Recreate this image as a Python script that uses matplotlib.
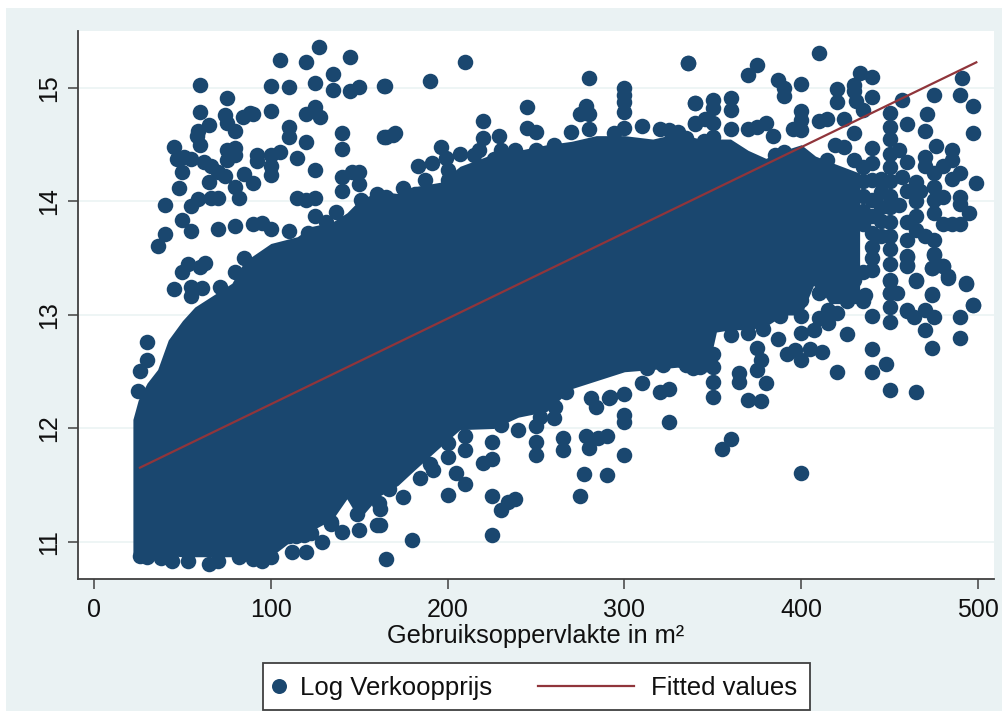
import matplotlib
matplotlib.use("Agg")
import matplotlib.pyplot as plt
from matplotlib.lines import Line2D
from matplotlib.patches import Rectangle

plt.rcParams['font.family'] = ['Liberation Sans', 'DejaVu Sans']

navy = "#1a476f"
maroon = "#90353b"
bg = "#eaf2f3"

x_ticks = [0, 100, 200, 300, 400, 500]
y_ticks = [11, 12, 13, 14, 15]
x_title = "Gebruiksoppervlakte in m²"
series_names = ["Log Verkoopprijs", "Fitted values"]

# fitted line, end points
fit_x = [26, 499]
fit_y = [11.655, 15.226]

# the solid part of the cloud, too dense to read single points
dense_x = [22, 25, 30, 36, 42, 50, 57, 70, 78, 85, 100, 115, 123, 135, 143, 150, 161, 172, 181,
           196, 207, 226, 240, 256, 270, 284, 300, 316, 330, 343, 347, 352, 360, 370, 380, 390, 400, 408, 416, 433]
dense_hi = [12.08, 12.25, 12.40, 12.52, 12.78, 12.95, 13.07, 13.2, 13.28, 13.47, 13.63, 13.69, 13.78,
            13.82, 13.9, 14.01, 14.09, 14.07, 14.13, 14.17, 14.31, 14.42, 14.45, 14.5, 14.53, 14.58,
            14.58, 14.55, 14.6, 14.55, 14.55, 14.55, 14.55, 14.45, 14.38, 14.45, 14.5, 14.4, 14.35, 14.25]
dense_lo = [10.9, 10.88, 10.88, 10.88, 10.88, 10.87, 10.87, 10.87, 10.87, 10.87, 10.87, 11.05, 11.1,
            11.2, 11.38, 11.2, 11.4, 11.5, 11.63, 11.84, 11.99, 12.0, 12.1, 12.15, 12.35, 12.42,
            12.5, 12.52, 12.54, 12.5, 12.5, 12.85, 12.87, 12.87, 12.9, 13.0, 13.0, 13.3, 13.1, 13.1]

# single points around the cloud
upper_left_x = [127, 105, 120, 145, 135, 60, 100, 110, 125, 135, 145, 150, 164, 75, 60, 100, 74, 84, 88, 90,
                120, 125, 128, 65, 75, 80, 59, 58, 60, 110, 110, 140, 140, 120, 164, 169, 45, 47, 51, 55,
                75, 80, 80, 75, 92, 92, 100, 105, 115, 62, 66, 70, 74, 50, 65, 85, 90, 100, 100, 125,
                140, 146, 150, 150, 140, 48, 80, 82, 40, 55, 59, 66, 70, 115, 120, 125, 50, 55, 70, 80,
                90, 95, 100, 110, 40, 36, 125, 137, 85, 53, 50, 60, 63, 80, 45, 55, 61, 55, 71,
                30, 30, 26, 25]
upper_left_y = [15.36, 15.25, 15.23, 15.27, 15.12, 15.03, 15.02, 15.01, 15.04, 14.98, 14.97, 15.01, 15.02,
                14.91, 14.79, 14.80, 14.76, 14.74, 14.78, 14.77, 14.77, 14.83, 14.74, 14.67, 14.69, 14.62,
                14.62, 14.58, 14.50, 14.66, 14.57, 14.60, 14.465, 14.52, 14.57, 14.59, 14.48, 14.375, 14.395,
                14.37, 14.45, 14.47, 14.41, 14.365, 14.41, 14.36, 14.41, 14.44, 14.38, 14.345, 14.31, 14.26,
                14.225, 14.26, 14.17, 14.24, 14.16, 14.31, 14.23, 14.28, 14.22, 14.26, 14.26, 14.15, 14.09,
                14.12, 14.13, 14.03, 13.97, 13.96, 14.02, 14.03, 14.03, 14.03, 14.01, 14.03, 13.84, 13.74,
                13.76, 13.78, 13.80, 13.81, 13.76, 13.74, 13.71, 13.61, 13.87, 13.91, 13.50, 13.45, 13.38,
                13.42, 13.46, 13.38, 13.23, 13.25, 13.24, 13.17, 13.25,
                12.76, 12.60, 12.51, 12.33]

upper_mid_x = [210, 190, 336, 280, 300, 300, 300, 300, 164.5, 165, 170, 245, 340, 340, 220, 278, 275, 280, 280,
               245, 250, 229, 220, 230, 196, 207, 191, 183, 187, 175, 199, 200, 238, 250, 260, 270, 310,
               300, 294, 320, 325, 330.5, 335, 215]
upper_mid_y = [15.23, 15.065, 15.22, 15.085, 15.0, 14.94, 14.88, 14.79, 15.02, 14.57, 14.60, 14.835, 14.87,
               14.68, 14.705, 14.84, 14.77, 14.77, 14.64, 14.645, 14.615, 14.58, 14.56, 14.45, 14.48, 14.42,
               14.34, 14.31, 14.19, 14.12, 14.38, 14.28, 14.45, 14.45, 14.5, 14.615, 14.665, 14.645, 14.6,
               14.64, 14.63, 14.615, 14.56, 14.41]

# lumps along the top and bottom of the solid part
edge_x = [121, 131, 140, 151, 160, 165, 181.6, 200, 218, 226, 241,
          167, 230, 252, 267, 281, 292, 313, 322, 339, 114, 123, 134, 149, 161]
edge_y = [13.72, 13.82, 13.78, 14.01, 14.07, 14.04, 14.07, 14.19, 14.45, 14.37, 14.39,
          11.47, 12.03, 12.1, 12.32, 12.27, 12.28, 12.53, 12.56, 12.53, 11.05, 11.08, 11.16, 11.25, 11.34]

lower_x = [26, 30, 38, 44, 53, 65, 70, 82, 90, 95, 100, 112, 120, 129, 140, 150, 160, 165, 110, 119, 134,
           180, 225, 162, 162, 175, 184.5, 192, 190, 200, 205, 210, 225, 230, 234, 238, 275, 277, 290, 300,
           300, 300, 325, 250, 250, 250, 265, 265, 278, 280, 285, 290, 225, 225, 220, 200, 200, 210, 210,
           240, 260, 261, 284, 291, 300, 310, 320, 325]
lower_y = [10.88, 10.865, 10.855, 10.83, 10.83, 10.81, 10.83, 10.865, 10.85, 10.83, 10.87, 10.91, 10.91,
           11.0, 11.09, 11.11, 11.15, 10.85, 11.05, 11.06, 11.18, 11.02, 11.06, 11.15, 11.29, 11.40, 11.56,
           11.63, 11.69, 11.41, 11.605, 11.51, 11.405, 11.28, 11.355, 11.38, 11.405, 11.60, 11.59, 11.77,
           12.12, 12.06, 12.06, 12.02, 11.88, 11.77, 11.92, 11.81, 11.93, 11.825, 11.92, 11.93, 11.88, 11.73,
           11.70, 11.75, 11.87, 11.81, 11.93, 11.99, 12.09, 12.19, 12.19, 12.27, 12.30, 12.40, 12.32, 12.345]

right_x = [355, 360, 400, 350, 350, 350, 350, 365, 365, 370, 377, 380, 375, 377, 375, 387, 392, 396.5, 400, 405,
           412, 420, 426, 440, 440, 448, 450, 465, 474, 470, 490, 490, 497, 474, 493, 465, 483, 480, 474,
           460, 460, 475, 440, 460, 464, 470, 475, 450, 450, 450, 450, 454, 436, 435, 426, 420, 415, 415,
           410, 407, 410, 410, 410, 411, 400, 400, 400, 400, 400, 422, 422, 430, 435, 339, 335, 343, 337,
           360, 370, 378.5, 388]
right_y = [11.82, 11.91, 11.61, 12.275, 12.41, 12.545, 12.66, 12.41, 12.49, 12.25, 12.24, 12.40, 12.515, 12.60,
           12.71, 12.79, 12.66, 12.69, 12.60, 12.70, 12.675, 12.50, 12.83, 12.70, 12.50, 12.57, 12.34, 12.32,
           12.71, 12.87, 12.80, 12.98, 13.09, 13.185, 13.28, 13.30, 13.33, 13.43, 13.41, 13.44, 13.52, 13.53,
           12.99, 13.035, 12.98, 13.04, 12.98, 12.94, 13.07, 13.19, 13.31, 13.19, 13.18, 13.12, 13.12, 13.015,
           12.93, 13.04, 12.97, 12.87, 13.19, 13.31, 13.44, 13.56, 12.99, 12.84, 13.13, 13.28, 13.43, 13.19,
           13.31, 13.31, 13.38, 12.545, 12.56, 12.545, 12.66, 12.82, 12.84, 12.88, 12.99]

upper_right_x = [336, 410, 375, 370, 387, 390, 390, 400, 433, 440, 430, 430, 420, 420, 431, 435, 440, 457, 475, 491,
                 490, 497, 471, 470, 497, 460, 476, 485, 485, 480, 470, 470, 490, 485, 499, 475, 475, 475, 475,
                 480, 490, 490, 495, 480.4, 485, 490, 465, 467, 465, 460, 460, 465, 460, 465, 470, 475, 475,
                 460, 460, 474, 480, 483, 465, 493, 474, 497, 460,
                 450, 450, 450, 450, 450, 450, 450, 450, 450, 450, 450, 450, 450, 450,
                 455, 460, 457, 455, 440, 440, 440, 440, 440, 440, 430, 424, 414.5, 410, 419, 424, 430, 414.5,
                 400, 400, 400, 395.5, 384, 380, 375, 370, 360, 360, 360, 350, 350, 340, 340, 345.5, 350, 345,
                 350, 385, 390,
                 440, 440, 440, 445, 445, 445, 445, 445, 435, 435, 435, 435, 435]
upper_right_y = [15.22, 15.31, 15.20, 15.11, 15.07, 15.0, 14.93, 15.035, 15.135, 15.10, 15.03, 14.97, 14.99, 14.88,
                 14.885, 14.81, 14.92, 14.89, 14.94, 15.085, 14.94, 14.84, 14.77, 14.62, 14.60, 14.68, 14.49,
                 14.45, 14.365, 14.31, 14.39, 14.31, 14.25, 14.20, 14.16, 14.25, 14.13, 14.01, 13.895, 14.04,
                 14.04, 13.98, 13.90, 13.80, 13.80, 13.80, 14.17, 14.09, 14.0, 14.09, 13.82, 13.87, 13.66, 13.75,
                 13.70, 13.66, 13.54, 13.51, 13.435, 13.41, 13.43, 13.34, 13.31, 13.27, 13.18, 13.09, 13.04,
                 14.78, 14.66, 14.55, 14.42, 14.3, 14.18, 14.05, 13.95, 13.82, 13.7, 13.58, 13.45, 13.3, 13.19,
                 14.45, 14.35, 14.22, 13.97, 14.47, 14.34, 14.19, 14.01, 13.87, 13.72, 14.6, 14.73, 14.73, 14.71,
                 14.5, 14.48, 14.365, 14.365, 14.8, 14.72, 14.63, 14.64, 14.58, 14.69, 14.66, 14.64, 14.91, 14.81,
                 14.64, 14.89, 14.82, 14.87, 14.69, 14.73, 14.69, 14.53, 14.57, 14.41, 14.44,
                 13.6, 13.5, 13.4, 14.2, 14.08, 13.95, 13.83, 13.7, 14.3, 14.18, 14.05, 13.92, 13.8]

points_x = upper_left_x + upper_mid_x + edge_x + lower_x + right_x + upper_right_x
points_y = upper_left_y + upper_mid_y + edge_y + lower_y + right_y + upper_right_y

fig = plt.figure(figsize=(10.02, 7.11), dpi=100, facecolor="white")
W, H = 1002, 711
fig.patches.append(Rectangle((6 / W, 0), 1 - 6 / W, 1 - 8 / H, transform=fig.transFigure,
                             facecolor=bg, edgecolor="none", zorder=-5))

ax = fig.add_axes([78 / W, 1 - 579 / H, (994 - 78) / W, (579 - 31) / H])
ax.set_xlim(-9.05, 509)
ax.set_ylim(10.674, 15.502)
ax.set_facecolor("white")

ax.fill_between(dense_x, dense_lo, dense_hi, color=navy, lw=0, zorder=3)
ax.scatter(points_x, points_y, s=125, color=navy, lw=0, zorder=3)
ax.plot(fit_x, fit_y, color=maroon, lw=1.6, zorder=4)

ax.set_xticks(x_ticks)
ax.set_yticks(y_ticks)
ax.grid(axis="y", color=bg, lw=1.1, zorder=0)
ax.set_axisbelow(True)
ax.spines["top"].set_visible(False)
ax.spines["right"].set_visible(False)
ax.spines["left"].set_color("#404040")
ax.spines["bottom"].set_color("#404040")
ax.spines["left"].set_linewidth(1.3)
ax.spines["bottom"].set_linewidth(1.3)
ax.tick_params(axis="y", length=7.5, width=1.1, color="#404040", labelsize=18, pad=5, labelcolor="#101010")
ax.tick_params(axis="x", length=7.5, width=1.1, color="#404040", labelsize=18, pad=6.5, labelcolor="#101010")
for lab in ax.get_yticklabels():
    lab.set_rotation(90)
    lab.set_va("center")

fig.text(535.5 / W, 1 - 643 / H, x_title, fontsize=18.3, ha="center", va="baseline", color="#101010")

# legend is laid out by hand, its marker sits off centre from the line sample
fig.patches.append(Rectangle((262.5 / W, 1 - 709.5 / H), 547 / W, 46.5 / H, transform=fig.transFigure,
                             facecolor="white", edgecolor="#404040", lw=1.3))
fig.add_artist(Line2D([279 / W], [1 - 686 / H], ls="", marker="o", ms=10.8, mfc=navy, mec="none",
                      transform=fig.transFigure))
fig.add_artist(Line2D([538 / W, 634 / W], [1 - 686 / H, 1 - 686 / H], color=maroon, lw=1.6,
                      transform=fig.transFigure))
fig.text(300 / W, 1 - 695 / H, series_names[0], fontsize=18.5, ha="left", va="baseline", color="#101010")
fig.text(651 / W, 1 - 695 / H, series_names[1], fontsize=18.5, ha="left", va="baseline", color="#101010")

fig.savefig("out.png", dpi=100, facecolor="white")
